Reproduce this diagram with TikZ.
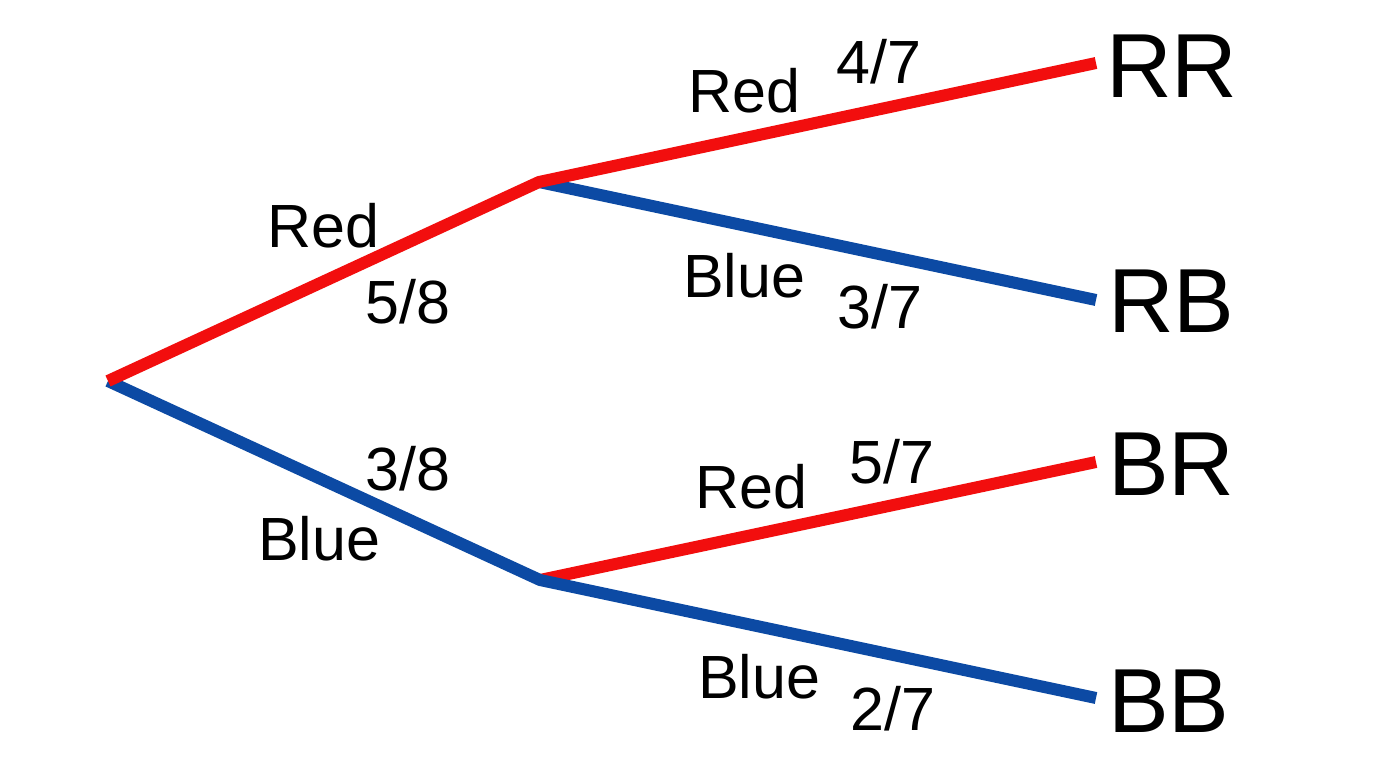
\documentclass[tikz,border=0pt]{standalone}
\usepackage{fontspec}
\setmainfont{Liberation Sans}
\definecolor{treered}{RGB}{242,14,14}
\definecolor{treeblue}{RGB}{12,74,164}
\begin{document}
\begin{tikzpicture}[x=1pt,y=-1pt,
  branch/.style={line width=12pt,line join=bevel},
  lbl/.style={anchor=base west,inner sep=0pt,font=\fontsize{61}{61}\selectfont},
  leaf/.style={anchor=base west,inner sep=0pt,font=\fontsize{91}{91}\selectfont}]
\useasboundingbox[fill=white] (0,0) rectangle (1376,768);
% junctions and branch ends
\coordinate (root) at (108,381);
\coordinate (up) at (539,182);
\coordinate (lo) at (540,580);
\coordinate (eRR) at (1096,63);
\coordinate (eRB) at (1096,300);
\coordinate (eBR) at (1096,462);
\coordinate (eBB) at (1096,698);
% branches
\draw[branch,treered] (lo) -- (eBR);
\draw[branch,treeblue] (root) -- (lo) -- (eBB);
\draw[branch,treeblue] (up) -- (eRB);
\draw[branch,treered] (root) -- (up) -- (eRR);
% labels first level
\node[lbl] (l1r) at (267,247) {Red};
\node[lbl] (p58) at (365,323) {5/8};
\node[lbl] (p38) at (365,490) {3/8};
\node[lbl] (l1b) at (258,560) {Blue};
% labels second level
\node[lbl] (l2rr) at (688,112) {Red};
\node[lbl] (p47) at (836,83) {4/7};
\node[lbl] (l2rb) at (683,297) {Blue};
\node[lbl] (p37) at (837,328) {3/7};
\node[lbl] (l2br) at (695,508) {Red};
\node[lbl] (p57) at (849,483) {5/7};
\node[lbl] (l2bb) at (698,698) {Blue};
\node[lbl] (p27) at (850,730) {2/7};
% outcomes
\node[leaf] (RR) at (1106,97) {RR};
\node[leaf] (RB) at (1108,332) {RB};
\node[leaf] (BR) at (1108,495) {BR};
\node[leaf] (BB) at (1108,732) {BB};
\end{tikzpicture}
\end{document}
